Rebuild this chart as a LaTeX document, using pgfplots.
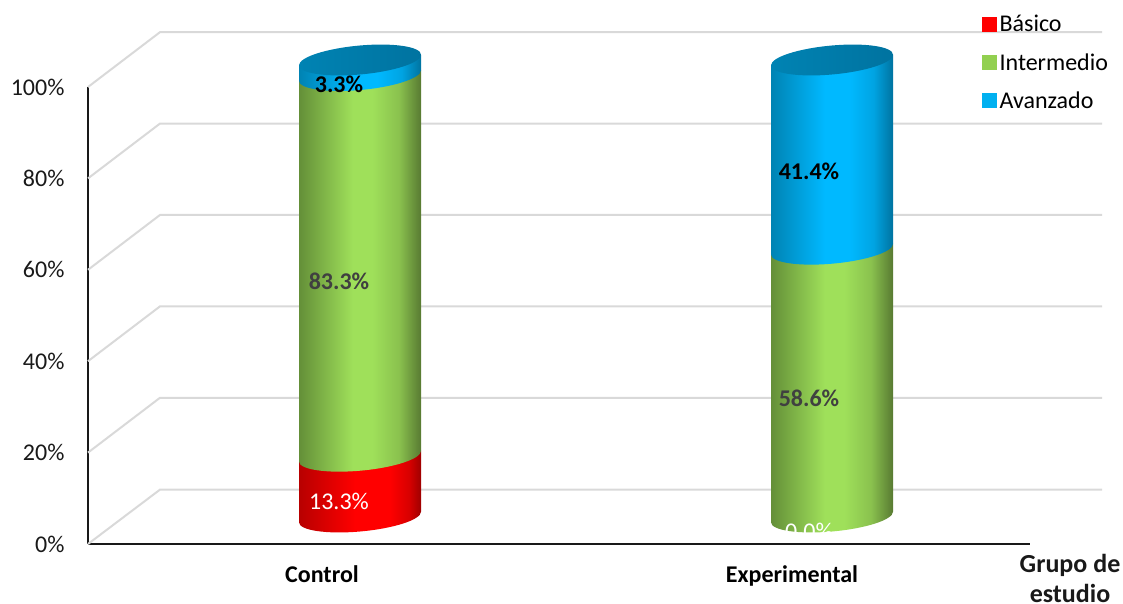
\documentclass[border=0pt]{standalone}
\usepackage{fontspec}
\setmainfont{Carlito}
\usepackage{pgfplots}
\pgfplotsset{compat=1.18}

\definecolor{gridgray}{HTML}{D9D9D9}
\definecolor{labeldark}{HTML}{404040}
\definecolor{legendgreen}{HTML}{92D050}
\definecolor{legendblue}{HTML}{00B0F0}

% Cylinder side shadings: stops 25bp and 75bp are the edges of the shaded shape
\pgfdeclarehorizontalshading{redside}{100bp}{
  color(0bp)=(red!72!black); color(25bp)=(red!72!black);
  color(48bp)=(red); color(62bp)=(red); color(70bp)=(red!85!black);
  color(75bp)=(red!62!black); color(100bp)=(red!62!black)}
\definecolor{greenedgeL}{HTML}{648F38}
\definecolor{greenmid}{HTML}{9FE05A}
\definecolor{greenedgeR}{HTML}{587A32}
\pgfdeclarehorizontalshading{greenside}{100bp}{
  color(0bp)=(greenedgeL); color(25bp)=(greenedgeL);
  color(47bp)=(greenmid); color(55bp)=(greenmid); color(66bp)=(greenmid!70!greenedgeR);
  color(75bp)=(greenedgeR); color(100bp)=(greenedgeR)}
\definecolor{blueedgeL}{HTML}{0083B3}
\definecolor{bluemid}{HTML}{00B9FF}
\definecolor{blueedgeR}{HTML}{0073A0}
\pgfdeclarehorizontalshading{blueside}{100bp}{
  color(0bp)=(blueedgeL); color(25bp)=(blueedgeL);
  color(47bp)=(bluemid); color(57bp)=(bluemid); color(67bp)=(bluemid!70!blueedgeR);
  color(75bp)=(blueedgeR); color(100bp)=(blueedgeR)}
\pgfdeclarehorizontalshading{topside}{100bp}{
  color(0bp)=(blueedgeL); color(25bp)=(blueedgeL); color(75bp)=(blueedgeR); color(100bp)=(blueedgeR)}

% Slanted ellipses that round off the cylinder segments
\newcommand{\capellipse}[1]{%
  \pgfpathellipse{\pgfpointorigin}{\pgfqpoint{61pt}{5.3pt}}{\pgfqpoint{0pt}{14.5pt}}%
  \pgfshadepath{#1}{0}\pgfusepath{discard}}
\pgfdeclareplotmark{redcap}{\capellipse{redside}}
\pgfdeclareplotmark{greencap}{\capellipse{greenside}}
\pgfdeclareplotmark{bluecap}{\capellipse{blueside}}
\pgfdeclareplotmark{topcap}{\capellipse{topside}}

\newcommand{\legendsquare}[1]{\addlegendimage{legend image code/.code={\fill[#1] (-2pt,-7pt) rectangle (12pt,7pt);}}}

\pgfplotsset{
  plane/.style={
    scale only axis, anchor=south west, clip=false,
    xmin=88, xmax=1030, ymin=0, ymax=100,
    width=942pt, height=457pt},
  cylinders/.style={plane, at={(88pt,86pt)}, hide axis},
  % shears a bar about the vertical through the cylinder's axis (given in pt from the axis box)
  sheared/.style={shift={(#1pt,0pt)}, yslant=0.0869, shift={(-#1pt,0pt)}},
}

\begin{document}
\begin{tikzpicture}[x=1pt,y=1pt]
% Front axes, tick labels and the gridlines on the back wall and side wall
\begin{axis}[
  plane, at={(88pt,59pt)},
  axis lines=left,
  axis line style={-, line width=2pt, color=black!90},
  major tick length=0pt,
  ytick={0,20,40,60,80,100},
  yticklabel={\pgfmathprintnumber{\tick}\%},
  /pgf/number format/assume math mode=true,
  yticklabel style={font=\fontsize{24}{26}\selectfont, text=black!90, xshift=-20pt},
  xtick={322,792},
  xticklabels={Control,Experimental},
  xticklabel style={font=\fontsize{24}{26}\selectfont\bfseries, text=black, yshift=-18pt},
]
\addplot[gridgray, line width=2pt] coordinates {(88,0)(160,11.9)(1102,11.9)};
\addplot[gridgray, line width=2pt] coordinates {(88,20)(160,32)(1102,32)};
\addplot[gridgray, line width=2pt] coordinates {(88,40)(160,52)(1102,52)};
\addplot[gridgray, line width=2pt] coordinates {(88,60)(160,72)(1102,72)};
\addplot[gridgray, line width=2pt] coordinates {(88,80)(160,92)(1102,92)};
\addplot[gridgray, line width=2pt] coordinates {(88,100)(160,112)(1102,112)};
\node[font=\fontsize{26}{30}\selectfont\bfseries, align=center, anchor=center, text=black!90]
  at (axis cs:1070,-7.6) {Grupo de\\estudio};
\end{axis}

% Stacked cylinder sides
\begin{axis}[
  cylinders,
  ybar stacked, bar width=122pt,
]
\addplot[draw=none, shade, shading=redside, sheared=272] coordinates {(360,13.3)};
\addplot[draw=none, shade, shading=greenside, sheared=272] coordinates {(360,83.3)};
\addplot[draw=none, shade, shading=blueside, sheared=272] coordinates {(360,3.3)};
\end{axis}
\begin{axis}[
  cylinders,
  ybar stacked, bar width=122pt,
]
\addplot[draw=none, shade, shading=redside, sheared=744] coordinates {(832,0)};
\addplot[draw=none, shade, shading=greenside, sheared=744] coordinates {(832,58.6)};
\addplot[draw=none, shade, shading=blueside, sheared=744] coordinates {(832,41.4)};
\end{axis}

% Segment ends
\begin{axis}[cylinders]
\addplot[only marks, draw=none, mark=redcap] coordinates {(360,0)};
\addplot[only marks, draw=none, mark=greencap] coordinates {(360,13.3)(832,0)};
\addplot[only marks, draw=none, mark=bluecap] coordinates {(360,96.6)(832,58.6)};
\addplot[only marks, draw=none, mark=topcap] coordinates {(360,100)(832,100)};
\end{axis}

% Value labels and legend
\begin{axis}[
  cylinders,
  legend style={draw=none, fill=none, at={(0.949,1.098)}, anchor=north west,
    font=\fontsize{24}{26}\selectfont, row sep=20pt, inner xsep=0pt, inner ysep=0pt,
    nodes={inner xsep=3pt, inner ysep=0pt}},
  legend cell align=left,
]
\legendsquare{red}
\legendsquare{legendgreen}
\legendsquare{legendblue}
\legend{Básico,Intermedio,Avanzado}
\node[font=\fontsize{24}{26}\selectfont\bfseries, text=black] at (axis cs:339,94.7) {3.3\%};
\node[font=\fontsize{24}{26}\selectfont\bfseries, text=labeldark] at (axis cs:339,51.6) {83.3\%};
\node[font=\fontsize{24}{26}\selectfont, text=white] at (axis cs:339,3.5) {13.3\%};
\node[font=\fontsize{24}{26}\selectfont\bfseries, text=black] at (axis cs:809,75.7) {41.4\%};
\node[font=\fontsize{24}{26}\selectfont\bfseries, text=labeldark] at (axis cs:809,26) {58.6\%};
\node[font=\fontsize{24}{26}\selectfont, text=white] at (axis cs:809,-3.1) {0.0\%};
\end{axis}
\pgfresetboundingbox
\useasboundingbox (0,0) rectangle (1123pt,603pt);
\end{tikzpicture}
\end{document}
